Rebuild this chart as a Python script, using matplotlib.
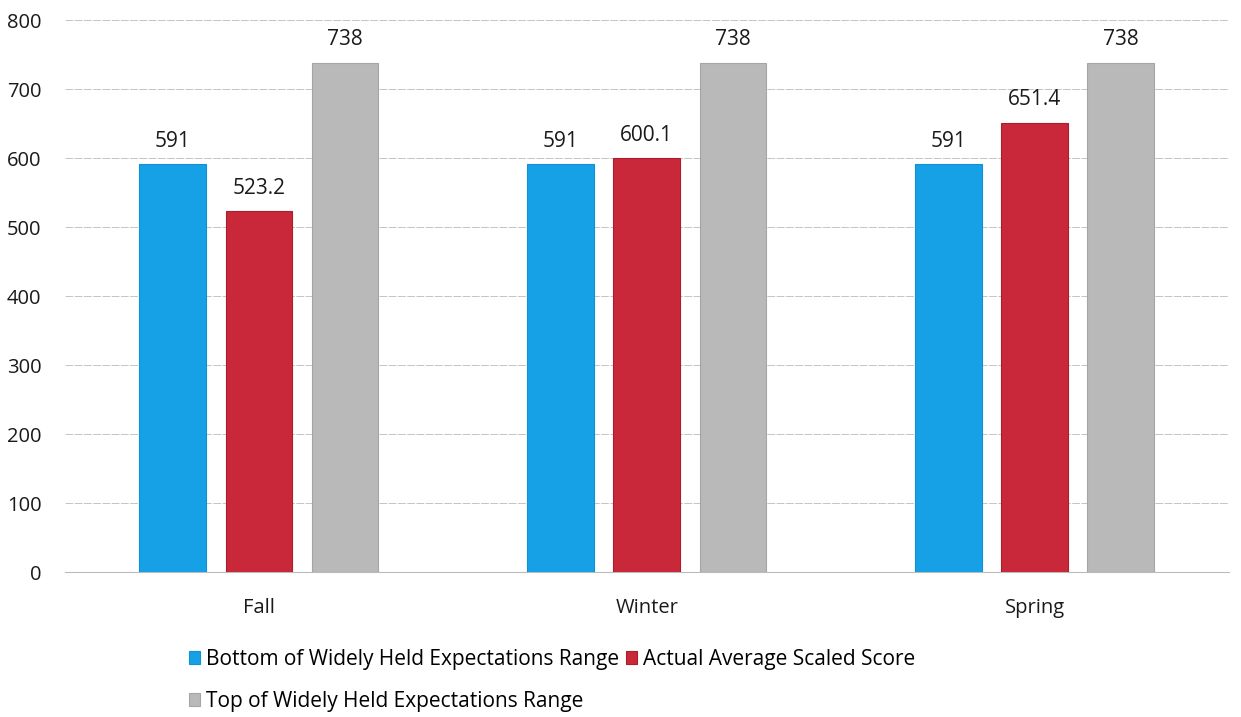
import numpy as np
import matplotlib.pyplot as plt

# Data
seasons = ['Fall', 'Winter', 'Spring']
bottom_range = [591, 591, 591]
actual_score = [523.2, 600.1, 651.4]
top_range = [738, 738, 738]

series_labels = ['Bottom of Widely Held Expectations Range',
                 'Actual Average Scaled Score',
                 'Top of Widely Held Expectations Range']
colors = ['#16a0e6', '#c9283a', '#b9b9b9']
edge_colors = ['#1290d2', '#a81e2c', '#a5a5a5']

plt.rcParams['font.family'] = ['Open Sans', 'DejaVu Sans']

fig = plt.figure(figsize=(12.41, 7.17), dpi=100)
ax = fig.add_axes([0.0524, 0.2022, 0.9376, 0.7698])

x = np.arange(len(seasons))
width = 0.172
step = 0.222

handles = []
for i, (vals, lab, col, ec) in enumerate(zip([bottom_range, actual_score, top_range],
                                             series_labels, colors, edge_colors)):
    bars = ax.bar(x + (i - 1) * step, vals, width, color=col, label=lab,
                  edgecolor=ec, linewidth=0.8, zorder=3)
    handles.append(bars)
    for b, v in zip(bars, vals):
        ax.text(b.get_x() + b.get_width() / 2, v + 18, f'{v:g}', ha='center', va='bottom',
                fontsize=15, color='#1a1a1a')

ax.set_xlim(-0.5, 2.5)
ax.set_ylim(0, 800)
ax.set_yticks(np.arange(0, 801, 100))
ax.set_xticks(x)
ax.set_xticklabels(seasons)
ax.tick_params(axis='both', length=0, labelsize=14.5, colors='#1a1a1a')
ax.tick_params(axis='y', pad=17)
ax.tick_params(axis='x', pad=19)
ax.yaxis.grid(True, color='#c4c4c4', linewidth=0.7, linestyle=(0, (8, 1.5)), zorder=0)
for s in ['top', 'right', 'left']:
    ax.spines[s].set_visible(False)
ax.spines['bottom'].set_color('#bbbbbb')
ax.spines['bottom'].set_linewidth(0.8)

# Legend: reorder so the rows read Bottom, Actual / Top
leg = fig.legend([handles[0], handles[2], handles[1]],
                 [series_labels[0], series_labels[2], series_labels[1]],
                 ncol=2, loc='upper left', bbox_to_anchor=(0.152, 0.095),
                 frameon=False, fontsize=15, handlelength=0.55, handleheight=0.55,
                 handletextpad=0.3, columnspacing=0.3, labelspacing=1.0,
                 borderaxespad=0, borderpad=0)

fig.savefig('out.png', dpi=100)
